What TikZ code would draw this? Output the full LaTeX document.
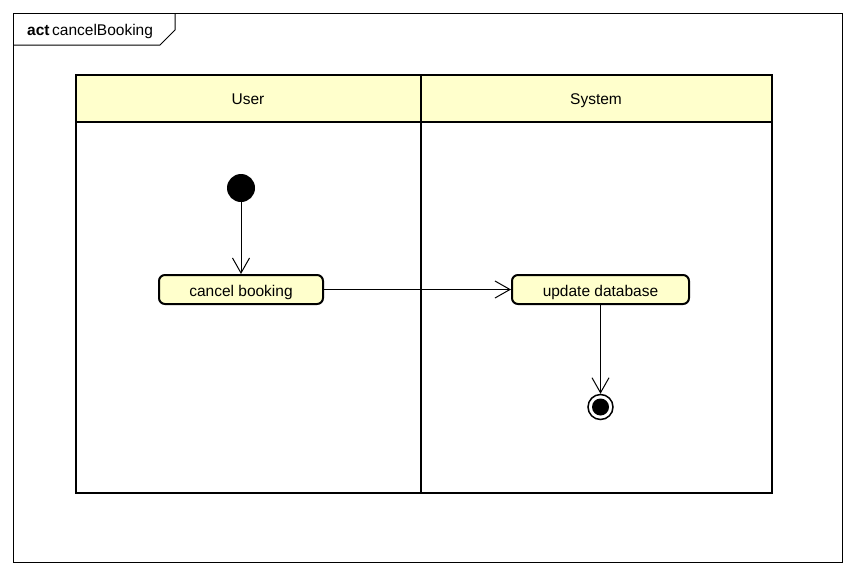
\documentclass[tikz,border=0pt]{standalone}
\usepackage{fontspec}
\setmainfont{Liberation Sans}
\usetikzlibrary{arrows.meta,positioning}
\definecolor{actfill}{HTML}{FFFFCC}

\begin{document}
\begin{tikzpicture}[x=1pt,y=-1pt,font=\fontsize{15.5}{18}\selectfont]%
        \useasboundingbox (0,0) rectangle (856,576); %%
        % frame and tab
        \draw[line width=1pt] (13,13) rectangle (842,562); %%
        \draw[line width=1pt] (13,45)--(160,45)--(175,30)--(175,13); %%
        \node[anchor=west,inner sep=0pt] (title) at (27,31) {\textbf{act}\,cancelBooking}; %%
        % swimlanes
        \begin{scope}[line width=2pt]
        \draw[fill=actfill] (76,75) rectangle (772,122); %%
        \draw (76,122) rectangle (772,493); %%
        \draw (421,75)--(421,493); %%
        \end{scope}
        \node[text height=11pt,text depth=2pt] (user) at (248,100)  {User}; %%
        \node[text height=11pt,text depth=2pt] (system) at (596,100)  {System}; %%
        % actions
        \begin{scope}[shape=rectangle,rounded corners=6pt,line width=2pt]
        \tikzstyle{every node}=[draw,fill=actfill,minimum height=29pt,inner sep=0pt,text height=14pt,text depth=1pt] %%
        \node[minimum width=164pt] (cancel) at (241,289.5)  {cancel booking}; %%
        \node[minimum width=177pt] (update) at (600.5,289.5)  {update database}; %%
        \end{scope}
        % initial and final
        \node[circle,fill=black,minimum size=28pt,inner sep=0pt] (start) at (241,188)  {}; %%
        \node[circle,draw,line width=1.5pt,minimum size=25pt,inner sep=0pt] (final) at (600.5,407)  {}; %%
        \node[circle,fill=black,minimum size=17pt,inner sep=0pt] (finaldot) at (600.5,407)  {}; %%
        % flows
        \tikzset{flow/.style={-{Straight Barb[length=15pt,width=17pt]},line width=1pt}}
        \draw[flow] (start)--(cancel);  %%
        \draw[flow] (cancel)--(update);  %%
        \draw[flow] (update)--(final);  %%
        \end{tikzpicture}
\end{document}
